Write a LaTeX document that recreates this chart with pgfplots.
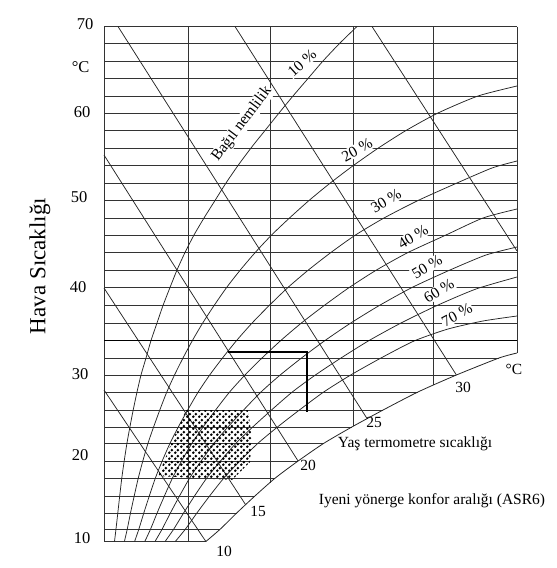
\documentclass[border=0pt]{standalone}
\usepackage{fontspec}
\setmainfont{Liberation Serif}
\usepackage{pgfplots}
\pgfplotsset{compat=1.18}
\usetikzlibrary{patterns.meta}
\tikzdeclarepattern{
  name=bigdots,
  type=uncolored,
  bottom left={(0pt,0pt)},
  top right={(6pt,6pt)},
  tile size={(6pt,6pt)},
  code={
    \fill (1.5pt,1.5pt) circle (1.65pt);
    \fill (4.5pt,4.5pt) circle (1.65pt);
  }
}
\tikzset{sm/.style={font=\fontsize{15.5}{18}\selectfont},
  tk/.style={font=\fontsize{16.5}{18}\selectfont},
  lb/.style={font=\fontsize{15.5}{18}\selectfont, fill=white, inner sep=1pt}}
\begin{document}
\begin{tikzpicture}
\begin{axis}[scale only axis, width=557pt, height=568pt,
  xmin=0, xmax=557, ymin=0, ymax=568, y dir=reverse,
  hide axis, clip=false, unbounded coords=jump]
\path (axis cs:0,0) rectangle (axis cs:557,568);
% horizontal grid lines every 2 C
\addplot[black!80, line width=0.8pt] coordinates {
(104,26.5) (517,26.5) (nan,nan)
(104,43.5) (517,43.5) (nan,nan)
(104,61) (517,61) (nan,nan)
(104,78.5) (517,78.5) (nan,nan)
(104,96) (517,96) (nan,nan)
(104,113) (517,113) (nan,nan)
(104,130.5) (517,130.5) (nan,nan)
(104,148) (517,148) (nan,nan)
(104,165.5) (517,165.5) (nan,nan)
(104,183) (517,183) (nan,nan)
(104,200.5) (517,200.5) (nan,nan)
(104,218) (517,218) (nan,nan)
(104,235) (517,235) (nan,nan)
(104,252.5) (517,252.5) (nan,nan)
(104,270) (517,270) (nan,nan)
(104,287.5) (517,287.5) (nan,nan)
(104,305.5) (517,305.5) (nan,nan)
(104,323) (517,323) (nan,nan)
(104,358) (499,358) (nan,nan)
(104,375) (456.4,375) (nan,nan)
(104,392) (417.9,392) (nan,nan)
(104,410) (383.1,410) (nan,nan)
(104,427) (351.8,427) (nan,nan)
(104,443.5) (323.5,443.5) (nan,nan)
(104,461) (298.1,461) (nan,nan)
(104,478) (275.3,478) (nan,nan)
(104,496) (254.9,496) (nan,nan)
(104,513) (236.7,513) (nan,nan)
(104,529) (220.4,529) (nan,nan)
(104,541.5) (205.9,541.5)
};
% vertical grid lines
\addplot[black!80, line width=0.8pt] coordinates {
(104,26.5) (104,541.5) (nan,nan)
(188,26.5) (188,541.5) (nan,nan)
(270,26.5) (270,482.7) (nan,nan)
(353,26.5) (353,426.3) (nan,nan)
(433,26.5) (433,385.3) (nan,nan)
(517,26.5) (517,353)
};
% saturation curve (100 %)
\addplot[black!85, line width=0.8pt, smooth, tension=0.4] coordinates {
(205.9,541.5) (220.4,529) (236.7,513) (254.9,496) (275.3,478) (298.1,461) (323.5,443.5) (351.8,427) (383.1,410) (417.9,392) (456.4,375) (499,358) (517,353)};
% relative humidity curves 10 ... 70 %
\addplot[black!85, line width=0.75pt, smooth, tension=0.4] coordinates {
(114.5,541.5) (116,529) (117.8,513) (119.7,496) (121.8,478) (124.2,461) (126.9,443.5) (129.9,427) (133.2,410) (137,392) (141,375) (146,358) (151,340.5) (157,323) (163,305.5) (170,287.5) (177,270) (185,252.5) (194,235) (204,218) (215,200.5) (226,183) (238,165.5) (251,148) (265,130.5) (279,113) (293,96) (308,78.5) (323,61) (339.5,43.5) (357,26.5)};
\addplot[black!85, line width=0.75pt, smooth, tension=0.4] coordinates {
(124.4,541.5) (127.3,529) (130.5,513) (134.2,496) (138.3,478) (142.8,461) (147.9,443.5) (153.6,427) (159.8,410) (166.8,392) (174.5,375) (183,358) (192.4,340.5) (202.7,323) (214.1,305.5) (226.6,287.5) (240.3,270) (255.2,252.5) (271.6,235) (289.5,218) (309,200.5) (330.3,183) (353.4,165.5) (378.4,148) (406,130.5) (438,113) (478,96) (517,86)};
\addplot[black!85, line width=0.75pt, smooth, tension=0.4] coordinates {
(134.6,541.5) (138.9,529) (143.8,513) (149.3,496) (155.4,478) (162.2,461) (169.9,443.5) (178.3,427) (187.7,410) (198.2,392) (209.7,375) (222.5,358) (236.6,340.5) (252.1,323) (269.2,305.5) (287.9,287.5) (308.4,270) (330.9,252.5) (355.5,235) (384,218) (418,200.5) (457,183) (492,168) (517,161)};
\addplot[black!85, line width=0.75pt, smooth, tension=0.4] coordinates {
(144.8,541.5) (150.6,529) (157.1,513) (164.4,496) (172.5,478) (181.6,461) (191.8,443.5) (203.1,427) (215.6,410) (229.6,392) (245,375) (262,358) (280.8,340.5) (301.4,323) (324.2,305.5) (349.2,287.5) (376.5,270) (408,252.5) (446,235) (483,218) (517,209)};
\addplot[black!85, line width=0.75pt, smooth, tension=0.4] coordinates {
(155,541.5) (162.2,529) (170.4,513) (179.5,496) (189.7,478) (201.1,461) (213.8,443.5) (227.9,427) (243.6,410) (261,392) (280.2,375) (301.5,358) (325,340.5) (350.8,323) (379.3,305.5) (412,287.5) (450,270) (486,255) (517,247)};
\addplot[black!85, line width=0.75pt, smooth, tension=0.4] coordinates {
(165.1,541.5) (173.8,529) (183.6,513) (194.5,496) (206.8,478) (220.5,461) (235.7,443.5) (252.7,427) (271.5,410) (292.3,392) (315.4,375) (341,358) (369.1,340.5) (401,323) (437,305.5) (476,289) (517,277)};
\addplot[black!85, line width=0.75pt, smooth, tension=0.4] coordinates {
(175.3,541.5) (185.5,529) (196.9,513) (209.6,496) (223.9,478) (239.9,461) (257.7,443.5) (277.5,427) (299.4,410) (323.7,392) (350.7,375) (381,358) (414,341) (448,329) (483,321) (517,316)};
% wet bulb lines
\addplot[black!85, line width=0.75pt] coordinates {
(104,390) (205.9,541.5) (nan,nan)
(104,288) (245.5,504.5) (nan,nan)
(104,155) (298.1,461) (nan,nan)
(118,26.5) (367,418.5) (nan,nan)
(235,26.5) (456.4,375) (nan,nan)
(372,26.5) (517,251)};
% bold 34 C line and bracket
\addplot[black, line width=1.5pt] coordinates {(104,340.5) (517,340.5)};
\addplot[black, line width=2.2pt] coordinates {(228,352) (307,352) (307,412)};
% comfort range (dotted)
\addplot[draw=none, pattern={bigdots}, pattern color=black] coordinates {
(186,410) (248,410) (252,438) (250,462) (232,480) (158,476) (171.5,443) (186,410)} -- cycle;
% y tick labels
\node[tk, anchor=east] at (axis cs:97,24) {70};
\node[tk, anchor=east] at (axis cs:93,67) {°C};
\node[tk, anchor=east] at (axis cs:94,112) {60};
\node[tk, anchor=east] at (axis cs:91,197) {50};
\node[tk, anchor=east] at (axis cs:90,287) {40};
\node[tk, anchor=east] at (axis cs:92,374) {30};
\node[tk, anchor=east] at (axis cs:92,455) {20};
\node[tk, anchor=east] at (axis cs:94,538) {10};
\node[rotate=90, font=\fontsize{23}{25}\selectfont] at (axis cs:40,266) {Hava Sıcaklığı};
% RH labels
\node[lb, rotate=53] at (axis cs:242,124) {Bağıl nemlilik};
\node[lb, rotate=42] at (axis cs:302,63) {10 \%};
\node[lb, rotate=29] at (axis cs:357,150) {20 \%};
\node[lb, rotate=31] at (axis cs:386,201) {30 \%};
\node[lb, rotate=31] at (axis cs:413,237) {40 \%};
\node[lb, rotate=31] at (axis cs:427,267) {50 \%};
\node[lb, rotate=32] at (axis cs:439,291) {60 \%};
\node[lb, rotate=28] at (axis cs:457,315) {70 \%};
% wet bulb labels
\node[sm] at (axis cs:224,551) {10};
\node[sm] at (axis cs:258,511) {15};
\node[sm] at (axis cs:308,465) {20};
\node[sm] at (axis cs:374,422) {25};
\node[sm] at (axis cs:463,387) {30};
\node[sm] at (axis cs:514,369) {°C};
\node[sm] at (axis cs:415,444) {Yaş termometre sıcaklığı};
\node[sm] at (axis cs:432,501) {Iyeni yönerge konfor aralığı (ASR6)};
\end{axis}
\end{tikzpicture}
\end{document}
